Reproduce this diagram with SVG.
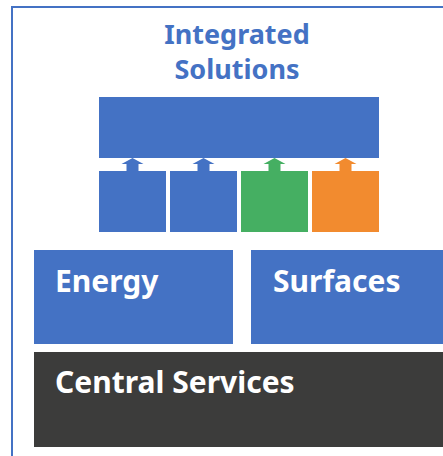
<svg xmlns="http://www.w3.org/2000/svg" width="443" height="456" viewBox="0 0 443 456">
<style>
.lbl{font-family:"Noto Sans","DejaVu Sans",sans-serif;font-weight:bold;fill:#fff;font-size:30px}
.title{font-family:"Noto Sans","DejaVu Sans",sans-serif;font-weight:bold;fill:#4472C4;font-size:27px;text-anchor:middle}
.blue{fill:#4472C4}.green{fill:#45AF62}.orange{fill:#F28B2F}
</style>
<defs>
<path id="arr" d="M-11,164 L0,158 L11,164 L6,164 L6,171 L-6,171 L-6,164 Z"/>
</defs>
<rect x="12" y="7" width="500" height="500" fill="#fff" stroke="#4472C4" stroke-width="2"/>
<g id="title"><text class="title" x="237" y="44">Integrated</text><text class="title" x="237" y="79">Solutions</text></g>
<g id="integrated-bar"><rect class="blue" x="99" y="97" width="280" height="61"/></g>
<g id="box1"><rect class="blue" x="99" y="171" width="67" height="61"/></g>
<g id="box2"><rect class="blue" x="170" y="171" width="67" height="61"/></g>
<g id="box3"><rect class="green" x="241" y="171" width="67" height="61"/></g>
<g id="box4"><rect class="orange" x="312" y="171" width="67" height="61"/></g>
<g id="connectors">
<use href="#arr" x="132.5" class="blue"/>
<use href="#arr" x="203.5" class="blue"/>
<use href="#arr" x="274.5" class="green"/>
<use href="#arr" x="345.5" class="orange"/>
</g>
<g id="energy"><rect class="blue" x="34" y="250" width="199" height="94"/><text class="lbl" x="55" y="292">Energy</text></g>
<g id="surfaces"><rect class="blue" x="251" y="250" width="200" height="94"/><text class="lbl" x="273" y="292">Surfaces</text></g>
<g id="central"><rect fill="#3C3C3B" x="34" y="352" width="420" height="95"/><text class="lbl" x="55" y="393">Central Services</text></g>
</svg>
